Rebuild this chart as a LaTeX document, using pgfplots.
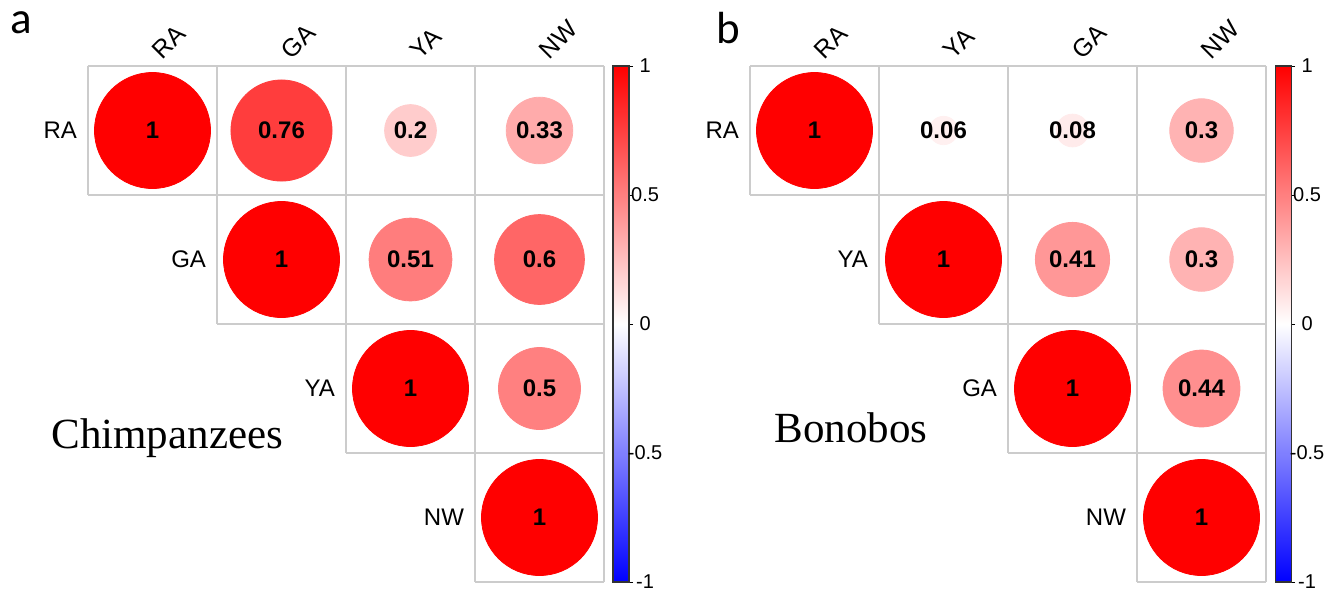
\documentclass[border=0pt]{standalone}
\usepackage{pgfplots}
\pgfplotsset{compat=1.18}
\usepackage{fontspec}
\setmainfont{Liberation Sans}
\newfontfamily\timesf{Liberation Serif}
\newfontfamily\calibf{Carlito}

\pgfplotstableread{
x y r
0 0 1
1 0 0.76
2 0 0.2
3 0 0.33
1 1 1
2 1 0.51
3 1 0.6
2 2 1
3 2 0.5
3 3 1
}\chimp

\pgfplotstableread{
x y r
0 0 1
1 0 0.06
2 0 0.08
3 0 0.3
1 1 1
2 1 0.41
3 1 0.3
2 2 1
3 2 0.44
3 3 1
}\bonobo

\tikzset{
  gridl/.style={draw=black!20, line width=0.6pt},
  rowlab/.style={anchor=east, xshift=-2pt, font=\fontsize{12}{14}\selectfont},
  collab/.style={yshift=2.5pt, xshift=5pt, rotate=45, anchor=base west, inner sep=0pt, font=\fontsize{12.5}{14}\selectfont},
}

\pgfplotsset{
  corrax/.style={
    anchor=south west, scale only axis, width=258pt, height=258pt,
    y dir=reverse,
    xmin=-0.5, xmax=3.5, ymin=-0.5, ymax=3.5,
    axis line style={draw=none}, xtick=\empty, ytick=\empty,
    clip=false,
    colormap={bwr}{rgb255=(0,0,255) rgb255=(255,255,255) rgb255=(255,0,0)},
    point meta min=-1, point meta max=1,
    colorbar,
    colorbar shift/.style={xshift=4.25pt},
    colorbar style={
      width=8pt,
      y dir=normal,
      ytick={-1,-0.5,0,0.5,1},
      yticklabels={-1,-0.5,0,0.5,1},
      ytick pos=right,
      tick align=outside,
      major tick length=2pt,
      tick style={draw=black, line width=0.5pt},
      axis line style={draw=black!80, line width=0.6pt},
      yticklabel style={font=\fontsize{10}{11}\selectfont, anchor=center, xshift=6pt},
    },
  },
  circles/.style={
    scatter, only marks, mark=*,
    point meta=\thisrow{r},
    visualization depends on={29*sqrt(abs(\thisrow{r}))\as\rad},
    scatter/use mapped color={draw=mapped color, fill=mapped color},
    scatter/@pre marker code/.append style={/tikz/mark size=\rad},
  },
  vals/.style={
    only marks, mark=*, mark size=0pt, mark options={draw=none, fill=none},
    point meta=\thisrow{r},
    nodes near coords={\pgfmathprintnumber[fixed,precision=2,assume math mode=true]{\pgfplotspointmeta}},
    every node near coord/.append style={anchor=center, text=black, inner sep=0pt,
      font=\bfseries\fontsize{12}{14}\selectfont},
  },
}

\newcommand{\corrgrid}{%
  \draw[gridl] (axis cs:-0.5,-0.5) -- (axis cs:3.5,-0.5);
  \draw[gridl] (axis cs:-0.5,0.5) -- (axis cs:3.5,0.5);
  \draw[gridl] (axis cs:0.5,1.5) -- (axis cs:3.5,1.5);
  \draw[gridl] (axis cs:1.5,2.5) -- (axis cs:3.5,2.5);
  \draw[gridl] (axis cs:2.5,3.5) -- (axis cs:3.5,3.5);
  \draw[gridl] (axis cs:-0.5,-0.5) -- (axis cs:-0.5,0.5);
  \draw[gridl] (axis cs:0.5,-0.5) -- (axis cs:0.5,1.5);
  \draw[gridl] (axis cs:1.5,-0.5) -- (axis cs:1.5,2.5);
  \draw[gridl] (axis cs:2.5,-0.5) -- (axis cs:2.5,3.5);
  \draw[gridl] (axis cs:3.5,-0.5) -- (axis cs:3.5,3.5);
}

\begin{document}
\begin{tikzpicture}
\path[use as bounding box] (0,0) rectangle (666.5pt,-297pt);

% Panel a: Chimpanzees
\begin{axis}[corrax, at={(44pt,-291pt)}]
  \corrgrid
  \addplot[circles] table[x=x,y=y] {\chimp};
  \addplot[vals] table[x=x,y=y] {\chimp};
  \node[rowlab] at (axis cs:-0.5,0) {RA};
  \node[rowlab] at (axis cs:0.5,1) {GA};
  \node[rowlab] at (axis cs:1.5,2) {YA};
  \node[rowlab] at (axis cs:2.5,3) {NW};
  \node[collab] at (axis cs:0,-0.5) {RA};
  \node[collab] at (axis cs:1,-0.5) {GA};
  \node[collab] at (axis cs:2,-0.5) {YA};
  \node[collab] at (axis cs:3,-0.5) {NW};
\end{axis}

% Panel b: Bonobos
\begin{axis}[corrax, at={(375pt,-291pt)}]
  \corrgrid
  \addplot[circles] table[x=x,y=y] {\bonobo};
  \addplot[vals] table[x=x,y=y] {\bonobo};
  \node[rowlab] at (axis cs:-0.5,0) {RA};
  \node[rowlab] at (axis cs:0.5,1) {YA};
  \node[rowlab] at (axis cs:1.5,2) {GA};
  \node[rowlab] at (axis cs:2.5,3) {NW};
  \node[collab] at (axis cs:0,-0.5) {RA};
  \node[collab] at (axis cs:1,-0.5) {YA};
  \node[collab] at (axis cs:2,-0.5) {GA};
  \node[collab] at (axis cs:3,-0.5) {NW};
\end{axis}

\node[anchor=base west, inner sep=0pt, font=\calibf\fontsize{22.5}{26}\selectfont] at (5pt,-16.5pt) {a};
\node[anchor=base west, inner sep=0pt, font=\calibf\fontsize{22.5}{26}\selectfont] at (358pt,-21.5pt) {b};
\node[anchor=base west, inner sep=0pt, font=\timesf\fontsize{21.5}{25}\selectfont] at (25.5pt,-224pt) {Chimpanzees};
\node[anchor=base west, inner sep=0pt, font=\timesf\fontsize{21.5}{25}\selectfont] at (387pt,-221pt) {Bonobos};
\end{tikzpicture}
\end{document}
